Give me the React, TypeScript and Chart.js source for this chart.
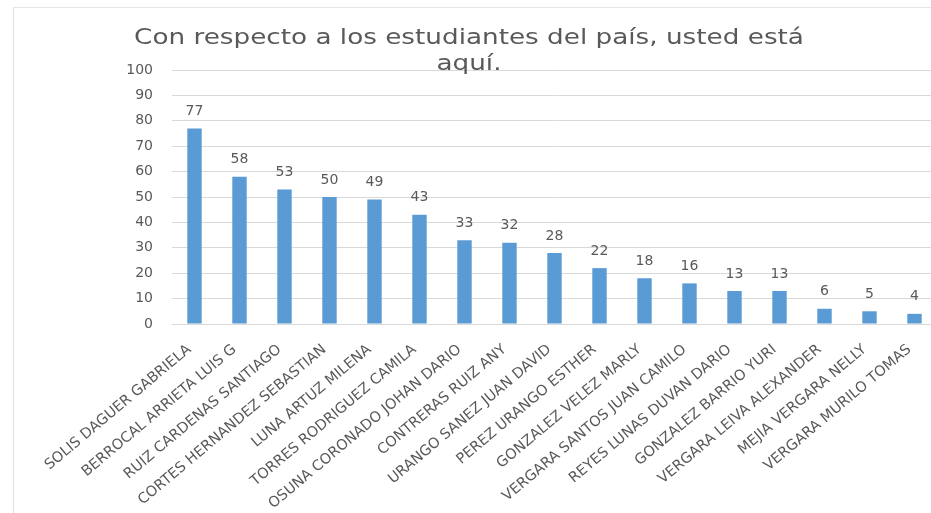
import React, { useEffect, useRef } from "react";
import { Chart, registerables } from "chart.js";

Chart.register(...registerables);

const categories = [
  "SOLIS DAGUER GABRIELA",
  "BERROCAL ARRIETA LUIS G",
  "RUIZ CARDENAS SANTIAGO",
  "CORTES HERNANDEZ SEBASTIAN",
  "LUNA ARTUZ MILENA",
  "TORRES RODRIGUEZ CAMILA",
  "OSUNA CORONADO JOHAN DARIO",
  "CONTRERAS RUIZ ANY",
  "URANGO SANEZ JUAN DAVID",
  "PEREZ URANGO ESTHER",
  "GONZALEZ VELEZ MARLY",
  "VERGARA SANTOS JUAN CAMILO",
  "REYES LUNAS DUVAN DARIO",
  "GONZALEZ BARRIO YURI",
  "VERGARA LEIVA ALEXANDER",
  "MEJIA VERGARA NELLY",
  "VERGARA MURILO TOMAS",
];

const values = [77, 58, 53, 50, 49, 43, 33, 32, 28, 22, 18, 16, 13, 13, 6, 5, 4];

const yMin = 0;
const yMax = 100;
const yStep = 10;

const titleLines = ["Con respecto a los estudiantes del país, usted está", "aquí."];

const TEXT = "#595959";
const GRID = "#d9d9d9";
const BAR = "#5B9BD5";
const FONT = "DejaVu Sans";

const titlePlugin = {
  id: "stretchedTitle",
  afterDraw(chart: any) {
    const ctx = chart.ctx;
    ctx.save();
    ctx.fillStyle = TEXT;
    ctx.font = `21px "${FONT}"`;
    ctx.textAlign = "center";
    ctx.textBaseline = "alphabetic";
    const cx = 469;
    const baselines = [43.5, 70];
    titleLines.forEach((line, i) => {
      ctx.save();
      ctx.translate(cx, baselines[i]);
      ctx.scale(1.25, 1);
      ctx.fillText(line, 0, 0);
      ctx.restore();
    });
    ctx.restore();
  },
};

const valueLabelPlugin = {
  id: "valueLabels",
  afterDatasetsDraw(chart: any) {
    const ctx = chart.ctx;
    const meta = chart.getDatasetMeta(0);
    ctx.save();
    ctx.fillStyle = TEXT;
    ctx.font = `14px "${FONT}"`;
    ctx.textAlign = "center";
    ctx.textBaseline = "middle";
    meta.data.forEach((bar: any, i: number) => {
      const v = chart.data.datasets[0].data[i];
      ctx.fillText(String(v), bar.x, bar.y - 17);
    });
    ctx.restore();
  },
};

export default function App() {
  const canvasRef = useRef<HTMLCanvasElement | null>(null);

  useEffect(() => {
    if (!canvasRef.current) return;
    const chart = new Chart(canvasRef.current, {
      type: "bar",
      data: {
        labels: categories,
        datasets: [
          {
            data: values,
            backgroundColor: BAR,
            borderWidth: 0,
            barPercentage: 0.32,
            categoryPercentage: 1,
          },
        ],
      },
      options: {
        responsive: false,
        animation: false,
        devicePixelRatio: 1,
        layout: { padding: { left: 0, right: 8, top: 70, bottom: 0 } },
        plugins: {
          legend: { display: false },
          tooltip: { enabled: false },
          title: { display: false },
        },
        scales: {
          y: {
            min: yMin,
            max: yMax,
            ticks: {
              stepSize: yStep,
              color: TEXT,
              font: { family: FONT, size: 14 },
              padding: 19,
            },
            grid: { color: GRID, drawTicks: false, lineWidth: 1 },
            border: { display: false },
            afterFit: (s: any) => {
              s.width = 172;
            },
          },
          x: {
            ticks: {
              autoSkip: false,
              minRotation: 40,
              maxRotation: 40,
              color: TEXT,
              font: { family: FONT, size: 14.5 },
              padding: 17,
              labelOffset: -5,
            },
            grid: { display: false, drawTicks: false },
            border: { display: true, color: GRID },
            afterFit: (s: any) => {
              s.height = 189;
            },
          },
        },
      },
      plugins: [valueLabelPlugin, titlePlugin],
    });
    return () => chart.destroy();
  }, []);

  return (
    <div
      style={{
        position: "fixed",
        left: 0,
        top: 0,
        width: 931,
        height: 513,
        overflow: "hidden",
        background: "#ffffff",
      }}
    >
      <canvas
        ref={canvasRef}
        width={945}
        height={513}
        style={{ position: "absolute", left: 0, top: 0, width: 945, height: 513 }}
      />
      <div
        style={{
          position: "absolute",
          left: 13,
          top: 7,
          width: 940,
          height: 520,
          borderLeft: "1px solid #dedede",
          borderTop: "1px solid #e6e6e6",
          pointerEvents: "none",
        }}
      />
    </div>
  );
}
